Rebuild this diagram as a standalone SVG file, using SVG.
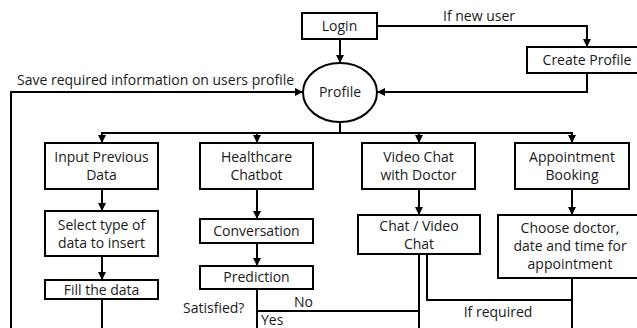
<svg xmlns="http://www.w3.org/2000/svg" width="637" height="328" viewBox="0 0 637 328">
<defs>
<marker id="ah" viewBox="0 0 10 10" refX="10" refY="5" markerWidth="4" markerHeight="4" orient="auto" markerUnits="strokeWidth">
<path d="M0,0 L10,5 L0,10 z" fill="#000"/>
</marker>
<style>
.box{fill:#fff;stroke:#000;stroke-width:2}
.t{font-family:"Open Sans","Noto Sans",sans-serif;font-size:14px;fill:#1a1a1a;text-anchor:middle}
.l{font-family:"Open Sans","Noto Sans",sans-serif;font-size:14px;fill:#1a1a1a}
.c{fill:none;stroke:#000;stroke-width:2}
.a{fill:none;stroke:#000;stroke-width:2;marker-end:url(#ah)}
</style>
</defs>
<rect width="637" height="328" fill="#fff"/>
<g id="connectors">
<path class="a" d="M340,39 V63"/>
<path class="a" d="M377,26 H587 V47"/>
<path class="a" d="M587,73 V92 H377"/>
<path class="a" d="M11,328 V92 H303"/>
<path class="c" d="M340,122 V133"/>
<path class="c" d="M101,133 H573"/>
<path class="a" d="M102,133 V143"/>
<path class="a" d="M257,133 V143"/>
<path class="a" d="M419,133 V143"/>
<path class="a" d="M572,133 V143"/>
<path class="a" d="M102,189 V211"/>
<path class="a" d="M102,256 V280"/>
<path class="c" d="M102,299 V328"/>
<path class="a" d="M257,189 V219"/>
<path class="a" d="M257,243 V266"/>
<path class="c" d="M257,289 V328"/>
<path class="c" d="M257,311 H419"/>
<path class="a" d="M419,189 V215"/>
<path class="c" d="M419,254 V328"/>
<path class="c" d="M427,254 V300 H572"/>
<path class="a" d="M572,189 V215"/>
<path class="c" d="M572,278 V328"/>
</g>
<g id="login"><rect class="box" x="302" y="13" width="75" height="26"/><text class="t" x="339.5" y="31">Login</text></g>
<g id="profile"><ellipse class="box" cx="340" cy="92.5" rx="37" ry="29.5"/><text class="t" x="340" y="97">Profile</text></g>
<g id="create-profile"><rect class="box" x="527" y="47" width="120" height="26"/><text class="t" x="587" y="65">Create Profile</text></g>
<g id="input-previous-data"><rect class="box" x="45" y="143" width="113" height="46"/><text class="t" x="101.5" y="162">Input Previous</text><text class="t" x="101.5" y="180">Data</text></g>
<g id="select-type"><rect class="box" x="45" y="211" width="113" height="45"/><text class="t" x="101.5" y="230">Select type of</text><text class="t" x="101.5" y="248">data to insert</text></g>
<g id="fill-data"><rect class="box" x="45" y="280" width="113" height="19"/><text class="t" x="101.5" y="295">Fill the data</text></g>
<g id="healthcare-chatbot"><rect class="box" x="200" y="143" width="113" height="46"/><text class="t" x="256.5" y="162">Healthcare</text><text class="t" x="256.5" y="180">Chatbot</text></g>
<g id="conversation"><rect class="box" x="200" y="219" width="113" height="24"/><text class="t" x="256.5" y="236">Conversation</text></g>
<g id="prediction"><rect class="box" x="200" y="266" width="113" height="23"/><text class="t" x="256.5" y="282">Prediction</text></g>
<g id="video-chat-doctor"><rect class="box" x="362" y="143" width="113" height="46"/><text class="t" x="418.5" y="162">Video Chat</text><text class="t" x="418.5" y="180">with Doctor</text></g>
<g id="chat-video"><rect class="box" x="358" y="215" width="122" height="39"/><text class="t" x="419" y="231">Chat / Video</text><text class="t" x="419" y="249">Chat</text></g>
<g id="appointment-booking"><rect class="box" x="515" y="143" width="114" height="46"/><text class="t" x="572" y="162">Appointment</text><text class="t" x="572" y="180">Booking</text></g>
<g id="choose-doctor"><rect class="box" x="498" y="215" width="145" height="63"/><text class="t" x="570" y="233">Choose doctor,</text><text class="t" x="570" y="251">date and time for</text><text class="t" x="570" y="269">appointment</text></g>
<g id="labels">
<text class="t" x="479" y="21">If new user</text>
<text class="l" x="17" y="85">Save required information on users profile</text>
<text class="l" x="183" y="313">Satisfied?</text>
<text class="l" x="294" y="307">No</text>
<text class="l" x="261" y="325">Yes</text>
<text class="t" x="498" y="317">If required</text>
</g>
</svg>
